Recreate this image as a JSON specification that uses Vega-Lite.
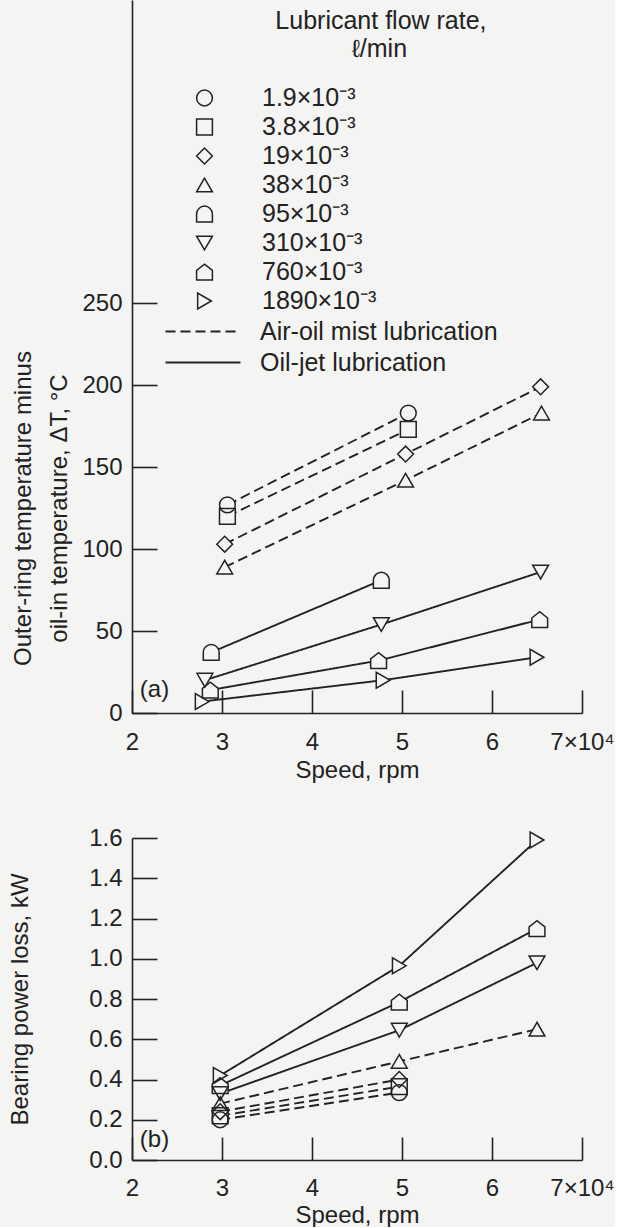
{
  "$schema": "https://vega.github.io/schema/vega-lite/v6.json",
  "background": "#f4f4f2",
  "padding": {"left": 8, "top": 0, "right": 0, "bottom": 0},
  "spacing": 44,
  "config": {
    "view": {"stroke": null},
    "font": "Liberation Sans",
    "axis": {
      "domainColor": "#222", "domainWidth": 1.6, "tickColor": "#222", "tickWidth": 1.6,
      "labelFontSize": 24, "titleFontSize": 24, "labelColor": "#222", "titleColor": "#222",
      "titleFontWeight": "normal", "grid": false, "labelFont": "Liberation Sans", "titleFont": "Liberation Sans", "labelFlush": false
    },
    "legend": {"labelFont": "Liberation Sans", "titleFont": "Liberation Sans", "labelColor": "#222", "titleColor": "#222"}
  },
  "datasets": {
    "pa": [
      {"rate": "1.9×10⁻³", "lub": "Air-oil mist lubrication", "speed": 3.06, "val": 127},
      {"rate": "1.9×10⁻³", "lub": "Air-oil mist lubrication", "speed": 5.07, "val": 183},
      {"rate": "3.8×10⁻³", "lub": "Air-oil mist lubrication", "speed": 3.06, "val": 120},
      {"rate": "3.8×10⁻³", "lub": "Air-oil mist lubrication", "speed": 5.07, "val": 173},
      {"rate": "19×10⁻³", "lub": "Air-oil mist lubrication", "speed": 3.03, "val": 103},
      {"rate": "19×10⁻³", "lub": "Air-oil mist lubrication", "speed": 5.04, "val": 158},
      {"rate": "19×10⁻³", "lub": "Air-oil mist lubrication", "speed": 6.54, "val": 199},
      {"rate": "38×10⁻³", "lub": "Air-oil mist lubrication", "speed": 3.03, "val": 89},
      {"rate": "38×10⁻³", "lub": "Air-oil mist lubrication", "speed": 5.04, "val": 142},
      {"rate": "38×10⁻³", "lub": "Air-oil mist lubrication", "speed": 6.55, "val": 183},
      {"rate": "95×10⁻³", "lub": "Oil-jet lubrication", "speed": 2.88, "val": 37},
      {"rate": "95×10⁻³", "lub": "Oil-jet lubrication", "speed": 4.77, "val": 81},
      {"rate": "310×10⁻³", "lub": "Oil-jet lubrication", "speed": 2.81, "val": 20},
      {"rate": "310×10⁻³", "lub": "Oil-jet lubrication", "speed": 4.77, "val": 54},
      {"rate": "310×10⁻³", "lub": "Oil-jet lubrication", "speed": 6.54, "val": 86},
      {"rate": "760×10⁻³", "lub": "Oil-jet lubrication", "speed": 2.87, "val": 14},
      {"rate": "760×10⁻³", "lub": "Oil-jet lubrication", "speed": 4.74, "val": 32},
      {"rate": "760×10⁻³", "lub": "Oil-jet lubrication", "speed": 6.53, "val": 57},
      {"rate": "1890×10⁻³", "lub": "Oil-jet lubrication", "speed": 2.78, "val": 7},
      {"rate": "1890×10⁻³", "lub": "Oil-jet lubrication", "speed": 4.79, "val": 20},
      {"rate": "1890×10⁻³", "lub": "Oil-jet lubrication", "speed": 6.5, "val": 34}
    ],
    "pb": [
      {"rate": "1.9×10⁻³", "lub": "Air-oil mist lubrication", "speed": 2.98, "val": 0.2},
      {"rate": "1.9×10⁻³", "lub": "Air-oil mist lubrication", "speed": 4.97, "val": 0.335},
      {"rate": "3.8×10⁻³", "lub": "Air-oil mist lubrication", "speed": 2.98, "val": 0.22},
      {"rate": "3.8×10⁻³", "lub": "Air-oil mist lubrication", "speed": 4.97, "val": 0.365},
      {"rate": "19×10⁻³", "lub": "Air-oil mist lubrication", "speed": 2.98, "val": 0.24},
      {"rate": "19×10⁻³", "lub": "Air-oil mist lubrication", "speed": 4.97, "val": 0.4},
      {"rate": "38×10⁻³", "lub": "Air-oil mist lubrication", "speed": 2.98, "val": 0.28},
      {"rate": "38×10⁻³", "lub": "Air-oil mist lubrication", "speed": 4.97, "val": 0.49},
      {"rate": "38×10⁻³", "lub": "Air-oil mist lubrication", "speed": 6.5, "val": 0.65},
      {"rate": "310×10⁻³", "lub": "Oil-jet lubrication", "speed": 2.98, "val": 0.33},
      {"rate": "310×10⁻³", "lub": "Oil-jet lubrication", "speed": 4.97, "val": 0.645},
      {"rate": "310×10⁻³", "lub": "Oil-jet lubrication", "speed": 6.5, "val": 0.98},
      {"rate": "760×10⁻³", "lub": "Oil-jet lubrication", "speed": 2.98, "val": 0.37},
      {"rate": "760×10⁻³", "lub": "Oil-jet lubrication", "speed": 4.97, "val": 0.785},
      {"rate": "760×10⁻³", "lub": "Oil-jet lubrication", "speed": 6.5, "val": 1.15},
      {"rate": "1890×10⁻³", "lub": "Oil-jet lubrication", "speed": 2.98, "val": 0.42},
      {"rate": "1890×10⁻³", "lub": "Oil-jet lubrication", "speed": 4.97, "val": 0.965},
      {"rate": "1890×10⁻³", "lub": "Oil-jet lubrication", "speed": 6.5, "val": 1.59}
    ]
  },
  "resolve": {
    "scale": {"shape": "independent", "strokeDash": "independent"},
    "legend": {"shape": "independent", "strokeDash": "independent"}
  },
  "vconcat": [
    {
      "width": 450,
      "height": 713,
      "resolve": {"scale": {"shape": "independent"}, "legend": {"shape": "independent"}},
      "layer": [
        {
          "data": {"name": "pa"},
          "mark": {"type": "line", "stroke": "#222", "strokeWidth": 1.9},
          "encoding": {
            "x": {"field": "speed", "type": "quantitative",
              "scale": {"domain": [2, 7], "nice": false, "zero": false},
              "axis": {"values": [2, 3, 4, 5, 6, 7], "format": "d", "tickSize": -23, "labelPadding": 40,
                "labelExpr": "datum.value == 7 ? '7×10⁴' : datum.label", "title": "Speed, rpm", "titlePadding": 4}},
            "y": {"field": "val", "type": "quantitative",
              "scale": {"domain": [0, 435], "nice": false},
              "axis": {"values": [0, 50, 100, 150, 200, 250], "tickSize": -25, "labelPadding": 35,
                "title": ["Outer-ring temperature minus", "oil-in temperature, ΔT, °C"],
                "titleLineHeight": 36, "titlePadding": 10, "titleY": 508, "titleAlign": "center"}},
            "detail": {"field": "rate"},
            "order": {"field": "speed"},
            "strokeDash": {"field": "lub", "type": "nominal",
              "scale": {"domain": ["Air-oil mist lubrication", "Oil-jet lubrication"], "range": [[10, 5], [1, 0]]},
              "legend": {"orient": "none", "legendX": 58.5, "legendY": 319, "title": null,
                "symbolType": "M-5,0L5,0", "symbolSize": 225, "symbolStrokeWidth": 1.9, "symbolStrokeColor": "#222",
                "labelFontSize": 25, "labelOffset": 44.5, "labelLimit": 400, "rowPadding": 5, "padding": 0}}
          }
        },
        {
          "data": {"name": "pa"},
          "mark": {"type": "point", "filled": true, "color": "#f4f4f2", "size": 250, "opacity": 1},
          "encoding": {
            "x": {"field": "speed", "type": "quantitative"},
            "y": {"field": "val", "type": "quantitative"},
            "shape": {"field": "rate", "type": "nominal",
              "scale": {
                "domain": ["1.9×10⁻³", "3.8×10⁻³", "19×10⁻³", "38×10⁻³", "95×10⁻³", "310×10⁻³", "760×10⁻³", "1890×10⁻³"],
                "range": ["circle", "square", "diamond", "triangle-up", "M-1,1L-1,0A1,1,0,0,1,1,0L1,1Z", "triangle-down", "M-1,1L-1,-0.2L0,-1L1,-0.2L1,1Z", "triangle-right"]
              },
              "legend": null}
          }
        },
        {
          "data": {"name": "pa"},
          "mark": {"type": "point", "filled": false, "color": "#222", "strokeWidth": 1.5, "size": 250, "opacity": 1},
          "encoding": {
            "x": {"field": "speed", "type": "quantitative"},
            "y": {"field": "val", "type": "quantitative"},
            "shape": {"field": "rate", "type": "nominal",
              "scale": {
                "domain": ["1.9×10⁻³", "3.8×10⁻³", "19×10⁻³", "38×10⁻³", "95×10⁻³", "310×10⁻³", "760×10⁻³", "1890×10⁻³"],
                "range": ["circle", "square", "diamond", "triangle-up", "M-1,1L-1,0A1,1,0,0,1,1,0L1,1Z", "triangle-down", "M-1,1L-1,-0.2L0,-1L1,-0.2L1,1Z", "triangle-right"]
              },
              "legend": {"orient": "none", "legendX": 60, "legendY": 8.5,
                "title": ["\u200b\u00a0\u00a0\u00a0\u00a0\u00a0\u00a0\u00a0\u00a0\u00a0\u00a0\u00a0\u00a0Lubricant flow rate,", "\u200b\u00a0\u00a0\u00a0\u00a0\u00a0\u00a0\u00a0\u00a0\u00a0\u00a0\u00a0\u00a0\u00a0\u00a0\u00a0\u00a0\u00a0\u00a0\u00a0\u00a0\u00a0\u00a0\u00a0ℓ/min"],
                "titleAlign": "left", "titleAnchor": "start", "titleFontSize": 25, "titleFontWeight": "normal",
                "titleLineHeight": 28, "titlePadding": 24, "titleBaseline": "top", "titleLimit": 0,
                "labelFontSize": 25, "labelOffset": 45, "labelLimit": 400, "rowPadding": 3, "symbolSize": 250,
                "symbolStrokeWidth": 1.5, "symbolStrokeColor": "#222", "padding": 0}}
          }
        },
        {
          "data": {"values": [{"label": "(a)"}]},
          "mark": {"type": "text", "fontSize": 24, "color": "#222"},
          "encoding": {"x": {"datum": 2.25}, "y": {"datum": 14}, "text": {"field": "label"}}
        }
      ]
    },
    {
      "width": 450,
      "height": 322,
      "layer": [
        {
          "data": {"name": "pb"},
          "mark": {"type": "line", "stroke": "#222", "strokeWidth": 1.9},
          "encoding": {
            "x": {"field": "speed", "type": "quantitative",
              "scale": {"domain": [2, 7], "nice": false, "zero": false},
              "axis": {"values": [2, 3, 4, 5, 6, 7], "format": "d", "tickSize": -23, "labelPadding": 39,
                "labelExpr": "datum.value == 7 ? '7×10⁴' : datum.label", "title": "Speed, rpm", "titlePadding": 3}},
            "y": {"field": "val", "type": "quantitative",
              "scale": {"domain": [0, 1.6], "nice": false},
              "axis": {"values": [0, 0.2, 0.4, 0.6, 0.8, 1.0, 1.2, 1.4, 1.6], "format": ".1f", "tickSize": -25, "labelPadding": 35,
                "title": "Bearing power loss, kW", "titlePadding": 56}},
            "detail": {"field": "rate"},
            "order": {"field": "speed"},
            "strokeDash": {"field": "lub", "type": "nominal",
              "scale": {"domain": ["Air-oil mist lubrication", "Oil-jet lubrication"], "range": [[10, 5], [1, 0]]},
              "legend": null}
          }
        },
        {
          "data": {"name": "pb"},
          "mark": {"type": "point", "filled": true, "color": "#f4f4f2", "size": 250, "opacity": 1},
          "encoding": {
            "x": {"field": "speed", "type": "quantitative"},
            "y": {"field": "val", "type": "quantitative"},
            "shape": {"field": "rate", "type": "nominal",
              "scale": {
                "domain": ["1.9×10⁻³", "3.8×10⁻³", "19×10⁻³", "38×10⁻³", "95×10⁻³", "310×10⁻³", "760×10⁻³", "1890×10⁻³"],
                "range": ["circle", "square", "diamond", "triangle-up", "M-1,1L-1,0A1,1,0,0,1,1,0L1,1Z", "triangle-down", "M-1,1L-1,-0.2L0,-1L1,-0.2L1,1Z", "triangle-right"]
              },
              "legend": null}
          }
        },
        {
          "data": {"name": "pb"},
          "mark": {"type": "point", "filled": false, "color": "#222", "strokeWidth": 1.5, "size": 250, "opacity": 1},
          "encoding": {
            "x": {"field": "speed", "type": "quantitative"},
            "y": {"field": "val", "type": "quantitative"},
            "shape": {"field": "rate", "type": "nominal", "legend": null}
          }
        },
        {
          "data": {"values": [{"label": "(b)"}]},
          "mark": {"type": "text", "fontSize": 24, "color": "#222"},
          "encoding": {"x": {"datum": 2.25}, "y": {"datum": 0.1}, "text": {"field": "label"}}
        }
      ]
    }
  ]
}
